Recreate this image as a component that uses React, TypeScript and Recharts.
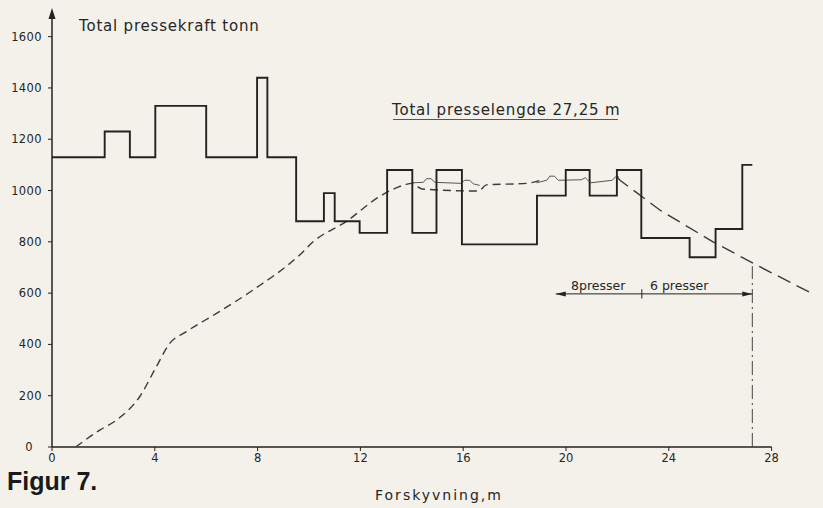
import React from 'react';
import { LineChart, Line, XAxis, YAxis, ReferenceLine, ReferenceDot } from 'recharts';

const xTicks = [0, 4, 8, 12, 16, 20, 24, 28];
const yTicks = [0, 200, 400, 600, 800, 1000, 1200, 1400, 1600];

// Total pressekraft (tonn) – step function, value holds from x to next x
const pressForce = [
  { x: 0, y: 1130 },
  { x: 2.05, y: 1230 },
  { x: 3.03, y: 1130 },
  { x: 4.02, y: 1330 },
  { x: 6.0, y: 1130 },
  { x: 7.98, y: 1440 },
  { x: 8.38, y: 1130 },
  { x: 9.5, y: 880 },
  { x: 10.58, y: 990 },
  { x: 11.0, y: 880 },
  { x: 11.97, y: 835 },
  { x: 13.04, y: 1080 },
  { x: 14.02, y: 835 },
  { x: 14.96, y: 1080 },
  { x: 15.95, y: 790 },
  { x: 18.87, y: 980 },
  { x: 19.99, y: 1080 },
  { x: 20.92, y: 980 },
  { x: 21.98, y: 1080 },
  { x: 22.93, y: 815 },
  { x: 24.81, y: 740 },
  { x: 25.82, y: 850 },
  { x: 26.86, y: 1100 },
  { x: 27.25, y: 1100 },
];

// Dashed curve, first part
const curveA = [
  { x: 0.92, y: 0 },
  { x: 1.86, y: 66 },
  { x: 2.51, y: 105 },
  { x: 3.41, y: 196 },
  { x: 4.06, y: 313 },
  { x: 4.58, y: 404 },
  { x: 5.23, y: 450 },
  { x: 6.4, y: 521 },
  { x: 7.82, y: 612 },
  { x: 9.64, y: 749 },
  { x: 10.16, y: 800 },
  { x: 11.46, y: 880 },
  { x: 12.75, y: 977 },
  { x: 13.72, y: 1022 },
  { x: 14.0, y: 1028 },
  { x: 14.4, y: 1006 },
  { x: 16.6, y: 998 },
  { x: 16.9, y: 1022 },
  { x: 18.46, y: 1028 },
  { x: 19.0, y: 1040 },
];

// Dashed curve, descending part
const curveB = [
  { x: 22.0, y: 1052 },
  { x: 22.09, y: 1041 },
  { x: 23.65, y: 924 },
  { x: 25.72, y: 800 },
  { x: 27.54, y: 703 },
  { x: 29.68, y: 593 },
];

// Thin solid line segments with small humps
const thinA = [
  { x: 13.98, y: 1030 },
  { x: 14.45, y: 1032 },
  { x: 14.57, y: 1046 },
  { x: 14.75, y: 1046 },
  { x: 14.9, y: 1032 },
  { x: 15.9, y: 1028 },
  { x: 16.06, y: 1040 },
  { x: 16.25, y: 1040 },
  { x: 16.4, y: 1026 },
  { x: 16.64, y: 1020 },
];
const thinB = [
  { x: 18.85, y: 1030 },
  { x: 19.25, y: 1040 },
  { x: 19.37, y: 1056 },
  { x: 19.55, y: 1056 },
  { x: 19.7, y: 1040 },
  { x: 20.6, y: 1042 },
  { x: 20.75, y: 1050 },
  { x: 20.95, y: 1030 },
  { x: 21.8, y: 1040 },
  { x: 21.95, y: 1056 },
  { x: 22.05, y: 1054 },
];

const totalLength = 27.25;
const splitX = 22.95;
const arrowStartX = 19.6;
const arrowY = 597;
const yTop = 1700;

const FONT = '"DejaVu Sans", sans-serif';
const INK = '#222';
const TEXT = '#262626';

const YTick = (props: any) => {
  const { x, y, payload } = props;
  const dx = payload.value === 0 ? -9 : 0;
  return (
    <text x={x + dx} y={y} dy={4} textAnchor="end" fontSize={11.5} letterSpacing={0.4} fill={TEXT} fontFamily={FONT}>
      {payload.value}
    </text>
  );
};

const XTick = (props: any) => {
  const { x, y, payload } = props;
  return (
    <text x={x} y={y} dy={9} textAnchor="middle" fontSize={11.5} fill={TEXT} fontFamily={FONT}>
      {payload.value}
    </text>
  );
};

export default function App() {
  return (
    <div style={{ position: 'absolute', left: 0, top: 0, width: 823, height: 508, background: '#f3f1ea' }}>
      <LineChart width={823} height={508} margin={{ top: 11, right: 0, bottom: 31, left: 0 }}>
        <XAxis
          type="number"
          dataKey="x"
          domain={[0, 30]}
          ticks={xTicks}
          axisLine={false}
          tickSize={4}
          tickMargin={2}
          tick={<XTick />}
          stroke={INK}
          height={30}
          allowDataOverflow
        />
        <YAxis
          type="number"
          dataKey="y"
          domain={[0, yTop]}
          ticks={yTicks}
          width={52}
          tickSize={4}
          tickMargin={6}
          tick={<YTick />}
          stroke={INK}
          axisLine={{ stroke: INK, strokeWidth: 1.5 }}
          allowDataOverflow
        />
        <ReferenceLine
          segment={[{ x: 0, y: 0 }, { x: 28, y: 0 }]}
          stroke={INK}
          strokeWidth={1.5}
          ifOverflow="visible"
        />
        <ReferenceDot
          x={0}
          y={yTop}
          ifOverflow="visible"
          shape={(p: any) => (
            <path d={`M${p.cx},${p.cy - 3} L${p.cx - 3.5},${p.cy + 8} L${p.cx + 3.5},${p.cy + 8} Z`} fill={INK} />
          )}
        />
        <ReferenceLine
          segment={[{ x: totalLength, y: 0 }, { x: totalLength, y: 705 }]}
          stroke="#444"
          strokeWidth={1}
          strokeDasharray="14 4 2 4"
          ifOverflow="visible"
        />
        <ReferenceLine
          segment={[{ x: arrowStartX, y: arrowY }, { x: totalLength, y: arrowY }]}
          stroke={INK}
          strokeWidth={1}
          ifOverflow="visible"
        />
        <ReferenceLine
          segment={[{ x: splitX, y: arrowY - 18 }, { x: splitX, y: arrowY + 18 }]}
          stroke={INK}
          strokeWidth={1}
          ifOverflow="visible"
        />
        <ReferenceDot
          x={arrowStartX}
          y={arrowY}
          ifOverflow="visible"
          shape={(p: any) => (
            <path d={`M${p.cx},${p.cy} L${p.cx + 10},${p.cy - 2.5} L${p.cx + 10},${p.cy + 2.5} Z`} fill={INK} />
          )}
        />
        <ReferenceDot
          x={totalLength}
          y={arrowY}
          ifOverflow="visible"
          shape={(p: any) => (
            <path d={`M${p.cx},${p.cy} L${p.cx - 10},${p.cy - 2.5} L${p.cx - 10},${p.cy + 2.5} Z`} fill={INK} />
          )}
        />
        <Line
          data={curveA}
          dataKey="y"
          type="monotone"
          stroke="#3a3a3a"
          strokeWidth={1.4}
          strokeDasharray="8 5"
          dot={false}
          isAnimationActive={false}
        />
        <Line
          data={curveB}
          dataKey="y"
          type="linear"
          stroke="#3a3a3a"
          strokeWidth={1.4}
          strokeDasharray="14 7"
          dot={false}
          isAnimationActive={false}
        />
        <Line data={thinA} dataKey="y" type="linear" stroke="#555" strokeWidth={1} dot={false} isAnimationActive={false} />
        <Line data={thinB} dataKey="y" type="linear" stroke="#555" strokeWidth={1} dot={false} isAnimationActive={false} />
        <Line
          data={pressForce}
          dataKey="y"
          type="stepAfter"
          stroke={INK}
          strokeWidth={1.9}
          dot={false}
          isAnimationActive={false}
        />
      </LineChart>
      <svg width={823} height={508} style={{ position: 'absolute', left: 0, top: 0, pointerEvents: 'none' }}>
        <text x={79} y={31} fontSize={15} letterSpacing={0.8} fill={TEXT} fontFamily={FONT}>
          Total pressekraft tonn
        </text>
        <text x={392} y={115} fontSize={15} letterSpacing={0.8} fill={TEXT} fontFamily={FONT}>
          Total presselengde 27,25 m
        </text>
        <line x1={393} y1={119.5} x2={618} y2={119.5} stroke="#555" strokeWidth={1} />
        <text x={571} y={290} fontSize={12.5} fill={TEXT} fontFamily={FONT}>
          8presser
        </text>
        <text x={650} y={290} fontSize={12.5} fill={TEXT} fontFamily={FONT}>
          6 presser
        </text>
        <text x={375} y={500} fontSize={14} letterSpacing={2} fill={TEXT} fontFamily={FONT}>
          Forskyvning,m
        </text>
        <text x={7} y={490} fontSize={25} fontWeight="bold" fill="#1a1a1a" fontFamily={'"Liberation Sans", Arial, sans-serif'}>
          Figur 7.
        </text>
      </svg>
    </div>
  );
}
